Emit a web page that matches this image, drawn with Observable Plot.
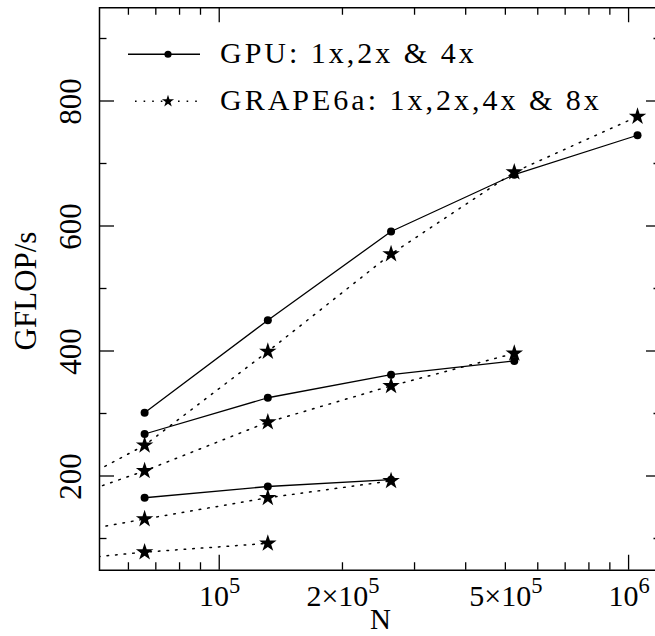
<!DOCTYPE html>
<html>
<head>
<meta charset="utf-8">
<script src="https://cdn.jsdelivr.net/npm/d3@7"></script>
<script src="https://cdn.jsdelivr.net/npm/@observablehq/plot@0.6"></script>
<style>
  html, body { margin: 0; padding: 0; background: #fff; overflow: hidden; }
  #chart svg { display: block; max-width: none !important; }
</style>
</head>
<body>
<div id="chart"></div>
<script>
// ---- data ----
const nValues  = [32768, 65536, 131072, 262144, 524288, 1048576];
const gpu1x    = [null, 166, 184, 195, null, null];
const gpu2x    = [null, 268, 326, 363, 385, null];
const gpu4x    = [null, 302, 450, 592, 683, 746];
const grape1x  = [60, 79, 93, null, null, null];
const grape2x  = [96, 132, 166, 193, null, null];
const grape4x  = [140, 209, 287, 345, 397, null];
const grape8x  = [145, 250, 400, 556, 687, 776];

const xMajorTicks = [1e5, 1e6];
const xMinorTicks = [6e4, 7e4, 8e4, 9e4, 2e5, 3e5, 4e5, 5e5, 6e5, 7e5, 8e5, 9e5];
const xTickValues = [1e5, 2e5, 5e5, 1e6];
const xTickLabels = ["10^5", "2×10^5", "5×10^5", "10^6"];
const yMajorTicks = [200, 400, 600, 800];
const yMinorTicks = [100, 300, 500, 700, 900];
const yTickLabels = ["200", "400", "600", "800"];

const legendLabels = ["GPU: 1x,2x & 4x", "GRAPE6a: 1x,2x,4x & 8x"];
const xLabel = "N";
const yLabel = "GFLOP/s";

// ---- build tables ----
function rows(series, vals) {
  return vals.map((v, i) => ({series, n: nValues[i], g: v})).filter(d => d.g != null);
}
const gpuRows = [...rows("GPU 1x", gpu1x), ...rows("GPU 2x", gpu2x), ...rows("GPU 4x", gpu4x)];
const grapeRows = [...rows("GRAPE 1x", grape1x), ...rows("GRAPE 2x", grape2x),
                   ...rows("GRAPE 4x", grape4x), ...rows("GRAPE 8x", grape8x)];
const xLabelRows = xTickValues.map((v, i) => ({v, t: xTickLabels[i]}));
const yLabelRows = yMajorTicks.map((v, i) => ({v, t: yTickLabels[i]}));

const W = 665, H = 636;
const mL = 99, mR = 4, mT = 7.25, mB = 66.25;
const FONT = "'Liberation Serif', 'Times New Roman', serif";
const DOT = "1.6,7";
const MAJOR = 15, MINOR = 7.5;

// inward ticks on all four sides, positioned through the plot's scales
function frameTicks(index, scales, values, dims) {
  const g = d3.create("svg:g").attr("stroke", "black").attr("stroke-width", 1.3).attr("fill", "none");
  const top = dims.marginTop, bottom = dims.height - dims.marginBottom;
  const left = dims.marginLeft, right = dims.width - dims.marginRight;
  const addX = (v, len) => {
    const x = scales.x(v);
    g.append("line").attr("x1", x).attr("x2", x).attr("y1", bottom).attr("y2", bottom - len);
    g.append("line").attr("x1", x).attr("x2", x).attr("y1", top).attr("y2", top + len);
  };
  const addY = (v, len) => {
    const y = scales.y(v);
    g.append("line").attr("y1", y).attr("y2", y).attr("x1", left).attr("x2", left + len);
    g.append("line").attr("y1", y).attr("y2", y).attr("x1", right).attr("x2", right - len);
  };
  xMajorTicks.forEach(v => addX(v, MAJOR));
  xMinorTicks.forEach(v => addX(v, MINOR));
  yMajorTicks.forEach(v => addY(v, MAJOR));
  yMinorTicks.forEach(v => addY(v, MINOR));
  return g.node();
}

function legend(index, scales, values, dims) {
  const g = d3.create("svg:g").attr("font-family", FONT).attr("font-size", 30);
  const x0 = dims.marginLeft, y0 = dims.marginTop;
  // GPU row
  g.append("line").attr("x1", x0 + 29).attr("x2", x0 + 101)
    .attr("y1", y0 + 47).attr("y2", y0 + 47).attr("stroke", "black").attr("stroke-width", 1.3);
  g.append("circle").attr("cx", x0 + 69).attr("cy", y0 + 47).attr("r", 3.6).attr("fill", "black");
  g.append("text").attr("x", x0 + 121).attr("y", y0 + 56).attr("text-anchor", "start")
    .attr("letter-spacing", "3px").text(legendLabels[0]);
  // GRAPE row
  g.append("line").attr("x1", x0 + 36).attr("x2", x0 + 99)
    .attr("y1", y0 + 94).attr("y2", y0 + 94).attr("stroke", "black").attr("stroke-width", 1.5)
    .attr("stroke-dasharray", DOT);
  g.append("path").attr("transform", `translate(${x0 + 69},${y0 + 94})`)
    .attr("d", d3.symbol(d3.symbolStar, 46)()).attr("fill", "black");
  g.append("text").attr("x", x0 + 121).attr("y", y0 + 103).attr("text-anchor", "start")
    .attr("letter-spacing", "3px").text(legendLabels[1]);
  return g.node();
}

const chart = Plot.plot({
  width: W, height: H,
  marginLeft: mL, marginRight: mR, marginTop: mT, marginBottom: mB,
  style: {fontFamily: FONT, fontSize: "30px", background: "white", color: "black",
          overflow: "visible", maxWidth: "none"},
  x: {type: "log", domain: [50850, 1.2e6], axis: null},
  y: {domain: [50, 950], axis: null},
  marks: [
    frameTicks,
    // data
    Plot.line(grapeRows, {x: "n", y: "g", z: "series", stroke: "black", strokeWidth: 1.5,
      strokeDasharray: DOT, clip: true}),
    Plot.line(gpuRows, {x: "n", y: "g", z: "series", stroke: "black", strokeWidth: 1.3, clip: true}),
    Plot.dot(gpuRows, {x: "n", y: "g", r: 4, fill: "black", stroke: null, clip: true}),
    Plot.dot(grapeRows, {x: "n", y: "g", r: 5.5, symbol: "star", fill: "black", stroke: null, clip: true}),
    // frame
    Plot.frame({stroke: "black", strokeWidth: 1.5}),
    // tick labels
    Plot.text(xLabelRows, {x: "v", text: "t", frameAnchor: "bottom", lineAnchor: "middle",
      textAnchor: "middle", dy: 26.6, fontSize: 30}),
    Plot.text(yLabelRows, {y: "v", text: "t", frameAnchor: "left", lineAnchor: "middle",
      textAnchor: "middle", rotate: -90, dx: -28.6, fontSize: 31}),
    // axis titles
    Plot.text([xLabel], {text: d => d, frameAnchor: "bottom", lineAnchor: "middle",
      textAnchor: "middle", dy: 49, fontSize: 29}),
    Plot.text([yLabel], {text: d => d, frameAnchor: "left", lineAnchor: "middle",
      textAnchor: "middle", rotate: -90, dx: -73.6, dy: 2, fontSize: 31}),
    legend
  ]
});

// superscripts for the x tick labels (10^5 -> 10 with raised 5)
d3.select(chart).selectAll("text").each(function () {
  if (this.querySelector("tspan")) return;
  const s = this.textContent;
  const k = s.indexOf("^");
  if (k < 0) return;
  const base = s.slice(0, k), sup = s.slice(k + 1);
  const t = d3.select(this);
  t.text(null);
  t.append("tspan").text(base);
  t.append("tspan").attr("dy", -13).attr("font-size", "22.5px").text(sup);
});

document.getElementById("chart").appendChild(chart);
</script>
</body>
</html>
